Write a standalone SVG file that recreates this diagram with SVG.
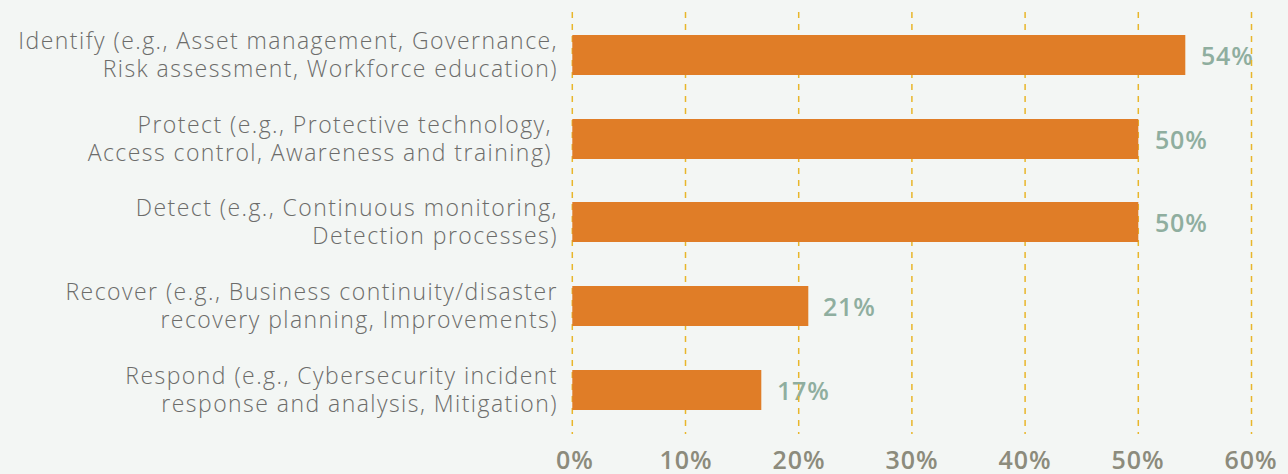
<svg xmlns="http://www.w3.org/2000/svg" width="1288" height="474" viewBox="0 0 1288 474">
<style>
.cat{font-family:"Open Sans","Liberation Sans",sans-serif;font-weight:300;font-size:23px;letter-spacing:1.45px;fill:#6c6c6a;text-anchor:end}
.val{font-family:"Open Sans","Liberation Sans",sans-serif;font-weight:600;font-size:25px;letter-spacing:0.8px;fill:#8fae9f}
.ax{font-family:"Open Sans","Liberation Sans",sans-serif;font-weight:600;font-size:25px;letter-spacing:1px;fill:#8c8b7c;text-anchor:middle}
.grid{stroke:#e8b62a;stroke-width:1.5;stroke-dasharray:6 6;fill:none}
.bar{fill:#e07d27}
</style>
<rect width="1288" height="474" fill="#f3f6f4"/>
<g id="labels">
<g id="cat-identify"><text class="cat" x="558" y="49">Identify (e.g., Asset management, Governance,</text><text class="cat" x="558" y="77">Risk assessment, Workforce education)</text></g>
<g id="cat-protect"><text class="cat" x="552" y="133">Protect (e.g., Protective technology,</text><text class="cat" x="552" y="161">Access control, Awareness and training)</text></g>
<g id="cat-detect"><text class="cat" x="558" y="216">Detect (e.g., Continuous monitoring,</text><text class="cat" x="558" y="244">Detection processes)</text></g>
<g id="cat-recover"><text class="cat" x="558" y="300">Recover (e.g., Business continuity/disaster</text><text class="cat" x="558" y="328">recovery planning, Improvements)</text></g>
<g id="cat-respond"><text class="cat" x="558" y="384">Respond (e.g., Cybersecurity incident</text><text class="cat" x="558" y="412">response and analysis, Mitigation)</text></g>
</g>
<g id="values">
<text class="val" x="1201" y="65">54%</text>
<text class="val" x="1155" y="149">50%</text>
<text class="val" x="1155" y="232">50%</text>
<text class="val" x="823" y="316">21%</text>
<text class="val" x="777" y="400">17%</text>
</g>
<g id="gridlines">
<line class="grid" x1="572.3" y1="12" x2="572.3" y2="434"/>
<line class="grid" x1="685.5" y1="12" x2="685.5" y2="434"/>
<line class="grid" x1="798.7" y1="12" x2="798.7" y2="434"/>
<line class="grid" x1="911.9" y1="12" x2="911.9" y2="434"/>
<line class="grid" x1="1025.1" y1="12" x2="1025.1" y2="434"/>
<line class="grid" x1="1138.3" y1="12" x2="1138.3" y2="434"/>
<line class="grid" x1="1251.5" y1="12" x2="1251.5" y2="434"/>
</g>
<g id="bars">
<rect id="bar-identify" class="bar" x="572.3" y="35" width="613" height="40"/>
<rect id="bar-protect" class="bar" x="572.3" y="119" width="566" height="40"/>
<rect id="bar-detect" class="bar" x="572.3" y="202" width="566" height="40"/>
<rect id="bar-recover" class="bar" x="572.3" y="286" width="236" height="40"/>
<rect id="bar-respond" class="bar" x="572.3" y="370" width="189" height="40"/>
</g>
<g id="axis">
<text class="ax" x="575" y="469">0%</text>
<text class="ax" x="686" y="469">10%</text>
<text class="ax" x="799" y="469">20%</text>
<text class="ax" x="912" y="469">30%</text>
<text class="ax" x="1025" y="469">40%</text>
<text class="ax" x="1138" y="469">50%</text>
<text class="ax" x="1251" y="469">60%</text>
</g>
</svg>
